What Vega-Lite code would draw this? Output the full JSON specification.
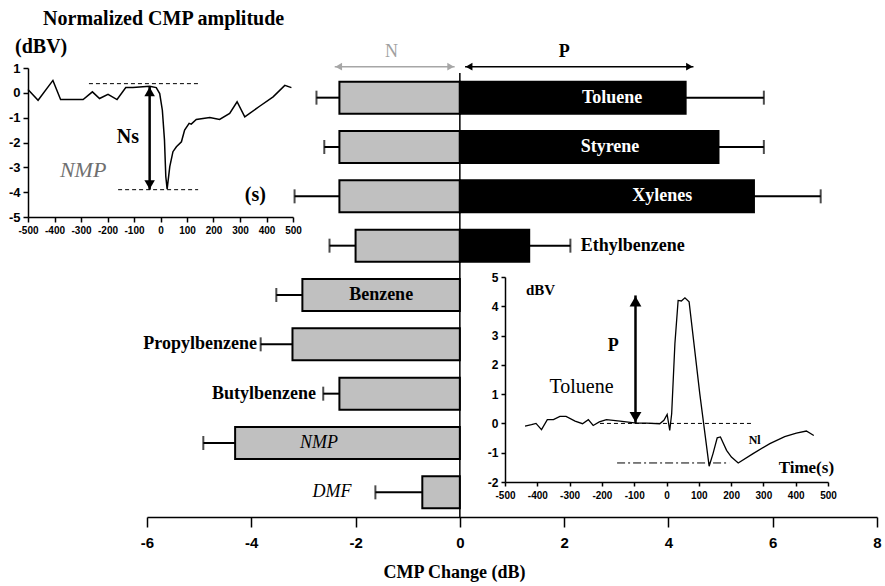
{
  "$schema": "https://vega.github.io/schema/vega-lite/v6.json",
  "width": 730,
  "height": 444,
  "autosize": {"type": "none"},
  "padding": {"left": 147, "top": 73, "right": 8, "bottom": 69},
  "background": "white",
  "config": {
    "view": {"stroke": null},
    "font": "'Liberation Serif', 'Times New Roman', serif",
    "text": {"font": "'Liberation Serif', 'Times New Roman', serif"},
    "axis": {"grid": false, "domainColor": "black", "tickColor": "black", "labelColor": "black", "titleColor": "black", "labelFont": "'Liberation Sans', Arial, sans-serif", "labelFontWeight": "bold", "labelExpr": "'' + datum.value", "labelFlush": false}
  },
  "datasets": {
    "bars": [
      {"solvent": "Toluene", "side": "N", "value": -2.31, "errEnd": -2.75},
      {"solvent": "Toluene", "side": "P", "value": 4.33, "errEnd": 5.83},
      {"solvent": "Styrene", "side": "N", "value": -2.31, "errEnd": -2.6},
      {"solvent": "Styrene", "side": "P", "value": 4.96, "errEnd": 5.83},
      {"solvent": "Xylenes", "side": "N", "value": -2.31, "errEnd": -3.17},
      {"solvent": "Xylenes", "side": "P", "value": 5.64, "errEnd": 6.92},
      {"solvent": "Ethylbenzene", "side": "N", "value": -2.0, "errEnd": -2.5},
      {"solvent": "Ethylbenzene", "side": "P", "value": 1.33, "errEnd": 2.12},
      {"solvent": "Benzene", "side": "N", "value": -3.02, "errEnd": -3.52},
      {"solvent": "Propylbenzene", "side": "N", "value": -3.21, "errEnd": -3.82},
      {"solvent": "Butylbenzene", "side": "N", "value": -2.31, "errEnd": -2.62},
      {"solvent": "NMP", "side": "N", "value": -4.31, "errEnd": -4.92},
      {"solvent": "DMF", "side": "N", "value": -0.72, "errEnd": -1.62}
    ],
    "labels": [
      {"solvent": "Toluene", "label": "Toluene", "at": 2.92},
      {"solvent": "Styrene", "label": "Styrene", "at": 2.88},
      {"solvent": "Xylenes", "label": "Xylenes", "at": 3.88},
      {"solvent": "Ethylbenzene", "label": "Ethylbenzene", "at": 2.32},
      {"solvent": "Benzene", "label": "Benzene", "at": -1.51},
      {"solvent": "Propylbenzene", "label": "Propylbenzene", "at": -3.89},
      {"solvent": "Butylbenzene", "label": "Butylbenzene", "at": -2.76},
      {"solvent": "NMP", "label": "NMP", "at": -2.7},
      {"solvent": "DMF", "label": "DMF", "at": -2.45}
    ],
    "headers": [
      {"name": "N", "from": -2.4, "to": -0.1, "labelAt": -1.31},
      {"name": "P", "from": 0.1, "to": 4.48, "labelAt": 2.0}
    ],
    "tl": [
      {"t": -500, "v": 0.13}, {"t": -462, "v": -0.3}, {"t": -406, "v": 0.5}, {"t": -377, "v": -0.27},
      {"t": -292, "v": -0.27}, {"t": -257, "v": 0.04}, {"t": -230, "v": -0.23}, {"t": -198, "v": -0.06},
      {"t": -164, "v": -0.27}, {"t": -131, "v": 0.21}, {"t": -104, "v": 0.21}, {"t": -41, "v": 0.26},
      {"t": -16, "v": 0.21}, {"t": -3, "v": -0.03}, {"t": 7, "v": -0.7}, {"t": 15, "v": -1.9},
      {"t": 20, "v": -3.37}, {"t": 25, "v": -3.88}, {"t": 35, "v": -2.97}, {"t": 47, "v": -2.37},
      {"t": 60, "v": -2.17}, {"t": 79, "v": -1.97}, {"t": 91, "v": -1.5}, {"t": 108, "v": -1.23},
      {"t": 116, "v": -1.26}, {"t": 135, "v": -1.07}, {"t": 186, "v": -0.99}, {"t": 223, "v": -1.07},
      {"t": 261, "v": -0.83}, {"t": 289, "v": -0.36}, {"t": 318, "v": -0.97}, {"t": 374, "v": -0.54},
      {"t": 425, "v": -0.16}, {"t": 469, "v": 0.3}, {"t": 494, "v": 0.21}
    ],
    "br": [
      {"t": -438, "v": -0.09}, {"t": -418, "v": -0.04}, {"t": -404, "v": 0.0}, {"t": -387, "v": -0.21},
      {"t": -369, "v": 0.13}, {"t": -350, "v": 0.13}, {"t": -330, "v": 0.24}, {"t": -311, "v": 0.24},
      {"t": -283, "v": 0.08}, {"t": -260, "v": -0.01}, {"t": -242, "v": 0.13}, {"t": -227, "v": -0.07},
      {"t": -208, "v": 0.05}, {"t": -186, "v": 0.13}, {"t": -144, "v": 0.08}, {"t": -93, "v": 0.01},
      {"t": -62, "v": 0.01}, {"t": -21, "v": -0.01}, {"t": -8, "v": 0.11}, {"t": 2, "v": 0.31},
      {"t": 10, "v": -0.24}, {"t": 16, "v": 0.33}, {"t": 26, "v": 2.72}, {"t": 36, "v": 4.2},
      {"t": 46, "v": 4.18}, {"t": 57, "v": 4.29}, {"t": 70, "v": 4.15}, {"t": 103, "v": 1.02},
      {"t": 132, "v": -1.46}, {"t": 144, "v": -1.03}, {"t": 157, "v": -0.49}, {"t": 167, "v": -0.46},
      {"t": 186, "v": -0.92}, {"t": 201, "v": -1.15}, {"t": 222, "v": -1.35}, {"t": 268, "v": -1.03},
      {"t": 320, "v": -0.69}, {"t": 366, "v": -0.45}, {"t": 402, "v": -0.33}, {"t": 433, "v": -0.26},
      {"t": 456, "v": -0.41}
    ],
    "tlGuides": [
      {"from": -270, "to": 148, "at": 0.37},
      {"from": -160, "to": 142, "at": -3.9}
    ],
    "tlArrow": [{"t": -41, "top": 0.25, "bottom": -3.9}],
    "brDash": [{"from": -206, "to": 263, "at": 0}],
    "brDashDot": [{"from": -153, "to": 194, "at": -1.35}],
    "brArrow": [{"t": -96, "top": 4.37, "bottom": 0.01}]
  },
  "layer": [
    {
      "resolve": {"axis": {"x": "independent", "y": "independent"}},
      "layer": [
        {
          "data": {"name": "bars"},
          "mark": {"type": "bar", "stroke": "black", "strokeWidth": 2},
          "encoding": {
            "y": {"field": "solvent", "type": "nominal", "axis": null,
                  "scale": {"domain": ["Toluene", "Styrene", "Xylenes", "Ethylbenzene", "Benzene", "Propylbenzene", "Butylbenzene", "NMP", "DMF"], "paddingInner": 0.35, "paddingOuter": 0.175}},
            "x": {"field": "value", "type": "quantitative",
                  "scale": {"domain": [-6, 8], "nice": false, "zero": false},
                  "axis": {"orient": "bottom", "values": [-6, -4, -2, 0, 2, 4, 6, 8], "tickSize": 10, "labelPadding": 8, "labelFontSize": 15, "domainWidth": 1.5, "tickWidth": 1.5,
                           "title": "CMP Change (dB)", "titleFont": "'Liberation Serif', 'Times New Roman', serif", "titleFontWeight": "bold", "titleFontSize": 18, "titleX": 307, "titleY": 60, "titleBaseline": "alphabetic", "titleAlign": "center"}},
            "x2": {"datum": 0},
            "color": {"field": "side", "type": "nominal", "scale": {"domain": ["N", "P"], "range": ["#c0c0c0", "#000000"]}, "legend": null}
          }
        },
        {
          "data": {"name": "bars"},
          "mark": {"type": "rule", "color": "black", "strokeWidth": 2},
          "encoding": {
            "y": {"field": "solvent", "type": "nominal", "axis": null},
            "x": {"field": "value", "type": "quantitative", "axis": null, "title": null},
            "x2": {"field": "errEnd"}
          }
        },
        {
          "data": {"name": "bars"},
          "mark": {"type": "tick", "color": "black", "orient": "vertical", "size": 14, "thickness": 2},
          "encoding": {
            "y": {"field": "solvent", "type": "nominal", "axis": null},
            "x": {"field": "errEnd", "type": "quantitative", "axis": null, "title": null}
          }
        },
        {
          "data": {"values": [{}]},
          "mark": {"type": "rule", "color": "black", "strokeWidth": 1.5},
          "encoding": {"x": {"datum": 0, "type": "quantitative", "axis": null}}
        },
        {
          "data": {"name": "labels"},
          "transform": [{"filter": {"field": "solvent", "oneOf": ["Toluene", "Styrene", "Xylenes"]}}],
          "mark": {"type": "text", "color": "white", "fontWeight": "bold", "fontSize": 18, "align": "center", "baseline": "middle"},
          "encoding": {
            "y": {"field": "solvent", "type": "nominal", "axis": null},
            "x": {"field": "at", "type": "quantitative", "axis": null, "title": null},
            "text": {"field": "label"}
          }
        },
        {
          "data": {"name": "labels"},
          "transform": [{"filter": {"field": "solvent", "oneOf": ["Ethylbenzene"]}}],
          "mark": {"type": "text", "color": "black", "fontWeight": "bold", "fontSize": 18, "align": "left", "baseline": "middle"},
          "encoding": {
            "y": {"field": "solvent", "type": "nominal", "axis": null},
            "x": {"field": "at", "type": "quantitative", "axis": null, "title": null},
            "text": {"field": "label"}
          }
        },
        {
          "data": {"name": "labels"},
          "transform": [{"filter": {"field": "solvent", "oneOf": ["Benzene"]}}],
          "mark": {"type": "text", "color": "black", "fontWeight": "bold", "fontSize": 18, "align": "center", "baseline": "middle"},
          "encoding": {
            "y": {"field": "solvent", "type": "nominal", "axis": null},
            "x": {"field": "at", "type": "quantitative", "axis": null, "title": null},
            "text": {"field": "label"}
          }
        },
        {
          "data": {"name": "labels"},
          "transform": [{"filter": {"field": "solvent", "oneOf": ["Propylbenzene", "Butylbenzene"]}}],
          "mark": {"type": "text", "color": "black", "fontWeight": "bold", "fontSize": 18, "align": "right", "baseline": "middle"},
          "encoding": {
            "y": {"field": "solvent", "type": "nominal", "axis": null},
            "x": {"field": "at", "type": "quantitative", "axis": null, "title": null},
            "text": {"field": "label"}
          }
        },
        {
          "data": {"name": "labels"},
          "transform": [{"filter": {"field": "solvent", "oneOf": ["NMP", "DMF"]}}],
          "mark": {"type": "text", "color": "black", "fontStyle": "italic", "fontSize": 18, "align": "center", "baseline": "middle"},
          "encoding": {
            "y": {"field": "solvent", "type": "nominal", "axis": null},
            "x": {"field": "at", "type": "quantitative", "axis": null, "title": null},
            "text": {"field": "label"}
          }
        },
        {
          "data": {"name": "headers"},
          "transform": [{"filter": "datum.name === 'N'"}],
          "layer": [
            {"mark": {"type": "rule", "color": "#a6a6a6", "strokeWidth": 1.5, "yOffset": -31},
             "encoding": {"x": {"field": "from", "type": "quantitative", "axis": null, "title": null}, "x2": {"field": "to"}, "y": {"datum": "Toluene", "type": "nominal", "axis": null}}},
            {"mark": {"type": "point", "shape": "triangle-left", "filled": true, "opacity": 1, "color": "#a6a6a6", "size": 60, "yOffset": -31, "xOffset": 4},
             "encoding": {"x": {"field": "from", "type": "quantitative", "axis": null, "title": null}, "y": {"datum": "Toluene", "type": "nominal", "axis": null}}},
            {"mark": {"type": "point", "shape": "triangle-right", "filled": true, "opacity": 1, "color": "#a6a6a6", "size": 60, "yOffset": -31, "xOffset": -4},
             "encoding": {"x": {"field": "to", "type": "quantitative", "axis": null, "title": null}, "y": {"datum": "Toluene", "type": "nominal", "axis": null}}},
            {"mark": {"type": "text", "color": "#a0a0a0", "fontSize": 18, "dy": -46, "align": "center", "baseline": "middle"},
             "encoding": {"x": {"field": "labelAt", "type": "quantitative", "axis": null, "title": null}, "y": {"datum": "Toluene", "type": "nominal", "axis": null}, "text": {"field": "name"}}}
          ]
        },
        {
          "data": {"name": "headers"},
          "transform": [{"filter": "datum.name === 'P'"}],
          "layer": [
            {"mark": {"type": "rule", "color": "black", "strokeWidth": 1.5, "yOffset": -31},
             "encoding": {"x": {"field": "from", "type": "quantitative", "axis": null, "title": null}, "x2": {"field": "to"}, "y": {"datum": "Toluene", "type": "nominal", "axis": null}}},
            {"mark": {"type": "point", "shape": "triangle-left", "filled": true, "opacity": 1, "color": "black", "size": 60, "yOffset": -31, "xOffset": 4},
             "encoding": {"x": {"field": "from", "type": "quantitative", "axis": null, "title": null}, "y": {"datum": "Toluene", "type": "nominal", "axis": null}}},
            {"mark": {"type": "point", "shape": "triangle-right", "filled": true, "opacity": 1, "color": "black", "size": 60, "yOffset": -31, "xOffset": -4},
             "encoding": {"x": {"field": "to", "type": "quantitative", "axis": null, "title": null}, "y": {"datum": "Toluene", "type": "nominal", "axis": null}}},
            {"mark": {"type": "text", "color": "black", "fontWeight": "bold", "fontSize": 18, "dy": -46, "align": "center", "baseline": "middle"},
             "encoding": {"x": {"field": "labelAt", "type": "quantitative", "axis": null, "title": null}, "y": {"datum": "Toluene", "type": "nominal", "axis": null}, "text": {"field": "name"}}}
          ]
        }
      ]
    },
    {
      "resolve": {"axis": {"x": "independent", "y": "independent"}},
      "layer": [
        {
          "data": {"name": "tl"},
          "mark": {"type": "line", "color": "black", "strokeWidth": 1.5},
          "encoding": {
            "x": {"field": "t", "type": "quantitative", "scale": {"domain": [-500, 500], "range": [-119, 146], "nice": false, "zero": false},
                  "axis": {"orient": "bottom", "offset": -300, "values": [-500, -400, -300, -200, -100, 0, 100, 200, 300, 400, 500], "labelOverlap": false, "labelFlush": false, "labelFontSize": 10, "tickSize": 5, "labelPadding": 3, "title": null, "domainWidth": 1.5, "tickWidth": 1.5}},
            "y": {"field": "v", "type": "quantitative", "scale": {"domain": [-5, 1], "range": [144, -5], "nice": false, "zero": false},
                  "axis": {"orient": "left", "offset": 119, "values": [-5, -4, -3, -2, -1, 0, 1], "labelOverlap": false, "labelFlush": false, "labelFontSize": 13, "tickSize": 5, "labelPadding": 3, "title": null, "domainWidth": 1.5, "tickWidth": 1.5}}
          }
        },
        {
          "data": {"name": "tlGuides"},
          "mark": {"type": "rule", "color": "black", "strokeWidth": 1, "strokeDash": [4, 3]},
          "encoding": {
            "x": {"field": "from", "type": "quantitative", "axis": null, "title": null}, "x2": {"field": "to"},
            "y": {"field": "at", "type": "quantitative", "axis": null, "title": null}
          }
        },
        {
          "data": {"name": "tlArrow"},
          "layer": [
            {"mark": {"type": "rule", "color": "black", "strokeWidth": 2.5},
             "encoding": {"x": {"field": "t", "type": "quantitative", "axis": null, "title": null}, "y": {"field": "top", "type": "quantitative", "axis": null, "title": null}, "y2": {"field": "bottom"}}},
            {"mark": {"type": "point", "shape": "triangle-up", "filled": true, "opacity": 1, "color": "black", "size": 110, "yOffset": 5},
             "encoding": {"x": {"field": "t", "type": "quantitative", "axis": null, "title": null}, "y": {"field": "top", "type": "quantitative", "axis": null, "title": null}}},
            {"mark": {"type": "point", "shape": "triangle-down", "filled": true, "opacity": 1, "color": "black", "size": 110, "yOffset": -5},
             "encoding": {"x": {"field": "t", "type": "quantitative", "axis": null, "title": null}, "y": {"field": "bottom", "type": "quantitative", "axis": null, "title": null}}}
          ]
        },
        {
          "data": {"values": [{"text": "Normalized CMP amplitude", "x": -443, "y": 2.73}]},
          "mark": {"type": "text", "fontWeight": "bold", "fontSize": 20, "align": "left", "baseline": "alphabetic", "color": "black"},
          "encoding": {"x": {"field": "x", "type": "quantitative", "axis": null, "title": null}, "y": {"field": "y", "type": "quantitative", "axis": null, "title": null}, "text": {"field": "text"}}
        },
        {
          "data": {"values": [{"text": "(dBV)", "x": -549, "y": 1.6}]},
          "mark": {"type": "text", "fontWeight": "bold", "fontSize": 20, "align": "left", "baseline": "alphabetic", "color": "black"},
          "encoding": {"x": {"field": "x", "type": "quantitative", "axis": null, "title": null}, "y": {"field": "y", "type": "quantitative", "axis": null, "title": null}, "text": {"field": "text"}}
        },
        {
          "data": {"values": [{"text": "Ns", "x": -123, "y": -1.77}, {"text": "(s)", "x": 358, "y": -4.1}]},
          "mark": {"type": "text", "fontWeight": "bold", "fontSize": 20, "align": "center", "baseline": "middle", "color": "black"},
          "encoding": {"x": {"field": "x", "type": "quantitative", "axis": null, "title": null}, "y": {"field": "y", "type": "quantitative", "axis": null, "title": null}, "text": {"field": "text"}}
        },
        {
          "data": {"values": [{"text": "NMP", "x": -292, "y": -3.1}]},
          "mark": {"type": "text", "fontStyle": "italic", "fontSize": 22, "align": "center", "baseline": "middle", "color": "#707070"},
          "encoding": {"x": {"field": "x", "type": "quantitative", "axis": null, "title": null}, "y": {"field": "y", "type": "quantitative", "axis": null, "title": null}, "text": {"field": "text"}}
        }
      ]
    },
    {
      "resolve": {"axis": {"x": "independent", "y": "independent"}},
      "layer": [
        {
          "data": {"name": "br"},
          "mark": {"type": "line", "color": "black", "strokeWidth": 1.3},
          "encoding": {
            "x": {"field": "t", "type": "quantitative", "scale": {"domain": [-500, 500], "range": [358, 681], "nice": false, "zero": false},
                  "axis": {"orient": "bottom", "offset": -35, "values": [-500, -400, -300, -200, -100, 0, 100, 200, 300, 400, 500], "labelOverlap": false, "labelFlush": false, "labelFontSize": 10, "tickSize": 4, "labelPadding": 4, "title": null, "domainWidth": 1.5, "tickWidth": 1.5}},
            "y": {"field": "v", "type": "quantitative", "scale": {"domain": [-2, 5], "range": [409, 204], "nice": false, "zero": false},
                  "axis": {"orient": "left", "offset": -358, "values": [-2, -1, 0, 1, 2, 3, 4, 5], "labelOverlap": false, "labelFlush": false, "labelFontSize": 12, "tickSize": 4, "labelPadding": 3, "title": null, "domainWidth": 1.5, "tickWidth": 1.5}}
          }
        },
        {
          "data": {"name": "brDash"},
          "mark": {"type": "rule", "color": "black", "strokeWidth": 1, "strokeDash": [4, 3]},
          "encoding": {
            "x": {"field": "from", "type": "quantitative", "axis": null, "title": null}, "x2": {"field": "to"},
            "y": {"field": "at", "type": "quantitative", "axis": null, "title": null}
          }
        },
        {
          "data": {"name": "brDashDot"},
          "mark": {"type": "rule", "color": "black", "strokeWidth": 1, "strokeDash": [8, 3, 2, 3]},
          "encoding": {
            "x": {"field": "from", "type": "quantitative", "axis": null, "title": null}, "x2": {"field": "to"},
            "y": {"field": "at", "type": "quantitative", "axis": null, "title": null}
          }
        },
        {
          "data": {"name": "brArrow"},
          "layer": [
            {"mark": {"type": "rule", "color": "black", "strokeWidth": 2.5},
             "encoding": {"x": {"field": "t", "type": "quantitative", "axis": null, "title": null}, "y": {"field": "top", "type": "quantitative", "axis": null, "title": null}, "y2": {"field": "bottom"}}},
            {"mark": {"type": "point", "shape": "triangle-up", "filled": true, "opacity": 1, "color": "black", "size": 140, "yOffset": 6},
             "encoding": {"x": {"field": "t", "type": "quantitative", "axis": null, "title": null}, "y": {"field": "top", "type": "quantitative", "axis": null, "title": null}}},
            {"mark": {"type": "point", "shape": "triangle-down", "filled": true, "opacity": 1, "color": "black", "size": 140, "yOffset": -6},
             "encoding": {"x": {"field": "t", "type": "quantitative", "axis": null, "title": null}, "y": {"field": "bottom", "type": "quantitative", "axis": null, "title": null}}}
          ]
        },
        {
          "data": {"values": [{"text": "dBV", "x": -390, "y": 4.57}]},
          "mark": {"type": "text", "fontWeight": "bold", "fontSize": 15, "align": "center", "baseline": "middle", "color": "black"},
          "encoding": {"x": {"field": "x", "type": "quantitative", "axis": null, "title": null}, "y": {"field": "y", "type": "quantitative", "axis": null, "title": null}, "text": {"field": "text"}}
        },
        {
          "data": {"values": [{"text": "P", "x": -165, "y": 2.63}]},
          "mark": {"type": "text", "fontWeight": "bold", "fontSize": 18, "align": "center", "baseline": "middle", "color": "black"},
          "encoding": {"x": {"field": "x", "type": "quantitative", "axis": null, "title": null}, "y": {"field": "y", "type": "quantitative", "axis": null, "title": null}, "text": {"field": "text"}}
        },
        {
          "data": {"values": [{"text": "Toluene", "x": -263, "y": 1.24}]},
          "mark": {"type": "text", "fontSize": 20, "align": "center", "baseline": "middle", "color": "black"},
          "encoding": {"x": {"field": "x", "type": "quantitative", "axis": null, "title": null}, "y": {"field": "y", "type": "quantitative", "axis": null, "title": null}, "text": {"field": "text"}}
        },
        {
          "data": {"values": [{"text": "Nl", "x": 273, "y": -0.55}]},
          "mark": {"type": "text", "fontWeight": "bold", "fontSize": 12, "align": "center", "baseline": "middle", "color": "black"},
          "encoding": {"x": {"field": "x", "type": "quantitative", "axis": null, "title": null}, "y": {"field": "y", "type": "quantitative", "axis": null, "title": null}, "text": {"field": "text"}}
        },
        {
          "data": {"values": [{"text": "Time(s)", "x": 433, "y": -1.51}]},
          "mark": {"type": "text", "fontWeight": "bold", "fontSize": 17, "align": "center", "baseline": "middle", "color": "black"},
          "encoding": {"x": {"field": "x", "type": "quantitative", "axis": null, "title": null}, "y": {"field": "y", "type": "quantitative", "axis": null, "title": null}, "text": {"field": "text"}}
        }
      ]
    }
  ],
  "resolve": {"scale": {"x": "independent", "y": "independent"}, "axis": {"x": "independent", "y": "independent"}}
}
